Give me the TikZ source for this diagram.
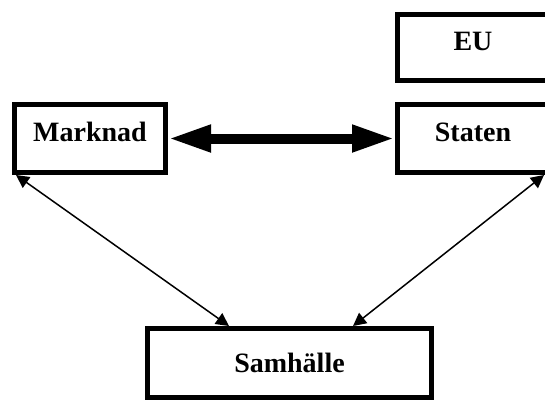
\documentclass[tikz,border=0pt]{standalone}
\usepackage{fontspec}
\setmainfont{Liberation Serif}
\usepackage{tikz}
\usetikzlibrary{arrows.meta, positioning}

\tikzset{
	box/.style={draw, line width=5pt, minimum width=151pt, minimum height=68pt, inner sep=0pt, font=\fontsize{28}{33}\selectfont\bfseries},
	textup/.style={text height=20pt, text depth=14pt},
	thin/.style={line width=1.5pt, {Triangle[length=13pt,width=13pt]}-{Triangle[length=13pt,width=13pt]}}
}

\begin{document}
\begin{tikzpicture}[x=1pt, y=-1pt]
			\clip (0,0) rectangle (545,402);
			\fill[white] (0,0) rectangle (545,402);
			
			% Boxes
			\node[box, textup] (eu) at (473,47.5) [minimum height=66pt] {EU};
			\node[box, textup] (marknad) at (90,138.5) {Marknad};
			\node[box, textup] (staten) at (473,138.5) {Staten};
			\node[box, minimum width=284pt, minimum height=69pt] (samhalle) at (289.5,363) {Samhälle};
			
			% Arrows
			\draw[line width=10pt, {Triangle[length=43pt,width=25pt]}-{Triangle[length=43pt,width=25pt]}] (marknad.east) -- (staten.west);
			\draw[thin] ([xshift=4pt]marknad.south west) -- ([xshift=84pt]samhalle.north west);
			\draw[thin] ([xshift=-7pt]staten.south east) -- ([xshift=-81pt]samhalle.north east);
		\end{tikzpicture}
\end{document}
